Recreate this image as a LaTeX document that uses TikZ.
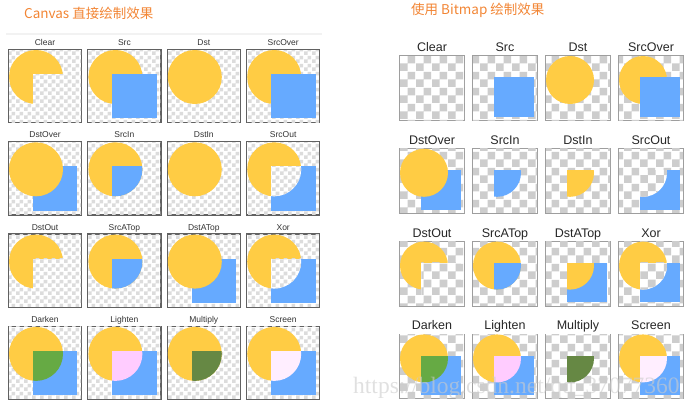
\documentclass[tikz,border=0pt]{standalone}
\usepackage{fontspec}
\setmainfont{Liberation Sans}
\newfontfamily\cjk{Noto Sans CJK SC}
\newfontfamily\wmserif{Liberation Serif}
\usetikzlibrary{%
  patterns,% checker boards
  scopes%
}

\definecolor{discyellow}{HTML}{FFCC44}
\definecolor{sqblue}{HTML}{66AAFF}
\definecolor{darkengreen}{HTML}{66AA44}
\definecolor{lightenpink}{HTML}{FFCCFF}
\definecolor{multgreen}{HTML}{668844}
\definecolor{screenpink}{HTML}{FFEEFF}
\definecolor{titleorange}{RGB}{242,133,52}
\definecolor{chkgrayL}{HTML}{DCDCDC}
\definecolor{chkgrayR}{HTML}{CDCDCD}

% checker boards, 4px and 8px squares
\pgfdeclarepatternformonly{checkL}{\pgfpointorigin}{\pgfqpoint{8pt}{8pt}}{\pgfqpoint{8pt}{8pt}}{%
  \pgfpathrectangle{\pgfpointorigin}{\pgfqpoint{4pt}{4pt}}%
  \pgfpathrectangle{\pgfqpoint{4pt}{4pt}}{\pgfqpoint{4pt}{4pt}}%
  \pgfusepath{fill}}
\pgfdeclarepatternformonly{checkR}{\pgfpointorigin}{\pgfqpoint{16pt}{16pt}}{\pgfqpoint{16pt}{16pt}}{%
  \pgfpathrectangle{\pgfpointorigin}{\pgfqpoint{8pt}{8pt}}%
  \pgfpathrectangle{\pgfqpoint{8pt}{8pt}}{\pgfqpoint{8pt}{8pt}}%
  \pgfusepath{fill}}

% shapes of one cell: origin (#1,#2), side #3
\newcommand{\cdisc}[3]{(#1+0.375*#3,#2+0.375*#3) circle [radius=0.375*#3]}
\newcommand{\csquare}[3]{(#1+#3/3,#2+#3/3) rectangle (#1+0.95*#3,#2+0.95*#3)}
\newcommand{\cmeet}[4]{{\begin{scope}\clip \cdisc{#2}{#3}{#4}; \fill[#1] \csquare{#2}{#3}{#4};\end{scope}}}
% empty cells with their names
\newcommand{\cellL}[4]{%
  \draw[frameL] (#1-0.6,#2-0.6) rectangle (#1+72.6,#2+72.6);
  \fill[chkL] (#1,#2) rectangle (#1+72,#2+72);
  \node[labL] (#4) at (#1+36,#2-4.5) {#3};}
\newcommand{\cellR}[4]{%
  \draw[frameR] (#1-0.45,#2-0.45) rectangle (#1+64.45,#2+64.45);
  \fill[chkR] (#1,#2) rectangle (#1+64,#2+64);
  \node[labR] (#4) at (#1+32,#2-4.5) {#3};}

\begin{document}
\begin{tikzpicture}[x=1pt, y=-1pt,
  frameL/.style={draw=black!62, line width=1.2pt},
  frameR/.style={draw=black!38, line width=0.9pt},
  chkL/.style={preaction={fill=white}, pattern=checkL, pattern color=chkgrayL},
  chkR/.style={preaction={fill=white}, pattern=checkR, pattern color=chkgrayR},
  labL/.style={anchor=base, inner sep=0pt, text=black!80, font=\fontsize{8.5}{9}\selectfont},
  labR/.style={anchor=base, inner sep=0pt, text=black!85, font=\fontsize{12.5}{13}\selectfont},
  title/.style={anchor=west, inner sep=0pt, text=titleorange, font=\cjk\fontsize{13.5}{14}\selectfont}]

\useasboundingbox (0,0) rectangle (694,407);

% -------- titles
\node[title] (titleL) at (24,13) {Canvas 直接绘制效果};
\node[title] (titleR) at (411,10.5) {使用 Bitmap 绘制效果};
\draw[black!5, line width=1.5pt] (6,34) -- (322,34);

% -------- Canvas, row 1
\cellL{9}{50}{Clear}{lClear}
\fill[discyellow] \cdisc{9}{50}{72};
\fill[chkL] \csquare{9}{50}{72};

\cellL{88.4}{50}{Src}{lSrc}
\fill[discyellow] \cdisc{88.4}{50}{72};
\fill[sqblue] \csquare{88.4}{50}{72};

\cellL{167.8}{50}{Dst}{lDst}
\fill[discyellow] \cdisc{167.8}{50}{72};

\cellL{247.2}{50}{SrcOver}{lSrcOver}
\fill[discyellow] \cdisc{247.2}{50}{72};
\fill[sqblue] \csquare{247.2}{50}{72};

% -------- Canvas, row 2
\cellL{9}{142.3}{DstOver}{lDstOver}
\fill[sqblue] \csquare{9}{142.3}{72};
\fill[discyellow] \cdisc{9}{142.3}{72};

\cellL{88.4}{142.3}{SrcIn}{lSrcIn}
\fill[discyellow] \cdisc{88.4}{142.3}{72};
\cmeet{sqblue}{88.4}{142.3}{72}

\cellL{167.8}{142.3}{DstIn}{lDstIn}
\fill[discyellow] \cdisc{167.8}{142.3}{72};

\cellL{247.2}{142.3}{SrcOut}{lSrcOut}
\fill[discyellow] \cdisc{247.2}{142.3}{72};
\fill[sqblue] \csquare{247.2}{142.3}{72};
\cmeet{chkL}{247.2}{142.3}{72}

% -------- Canvas, row 3
\cellL{9}{234.6}{DstOut}{lDstOut}
\fill[discyellow] \cdisc{9}{234.6}{72};
\fill[chkL] \csquare{9}{234.6}{72};

\cellL{88.4}{234.6}{SrcATop}{lSrcATop}
\fill[discyellow] \cdisc{88.4}{234.6}{72};
\cmeet{sqblue}{88.4}{234.6}{72}

\cellL{167.8}{234.6}{DstATop}{lDstATop}
\fill[sqblue] \csquare{167.8}{234.6}{72};
\fill[discyellow] \cdisc{167.8}{234.6}{72};

\cellL{247.2}{234.6}{Xor}{lXor}
\fill[discyellow] \cdisc{247.2}{234.6}{72};
\fill[sqblue] \csquare{247.2}{234.6}{72};
\cmeet{chkL}{247.2}{234.6}{72}

% -------- Canvas, row 4
\cellL{9}{326.9}{Darken}{lDarken}
\fill[discyellow] \cdisc{9}{326.9}{72};
\fill[sqblue] \csquare{9}{326.9}{72};
\cmeet{darkengreen}{9}{326.9}{72}

\cellL{88.4}{326.9}{Lighten}{lLighten}
\fill[discyellow] \cdisc{88.4}{326.9}{72};
\fill[sqblue] \csquare{88.4}{326.9}{72};
\cmeet{lightenpink}{88.4}{326.9}{72}

\cellL{167.8}{326.9}{Multiply}{lMultiply}
\fill[discyellow] \cdisc{167.8}{326.9}{72};
\cmeet{multgreen}{167.8}{326.9}{72}

\cellL{247.2}{326.9}{Screen}{lScreen}
\fill[discyellow] \cdisc{247.2}{326.9}{72};
\fill[sqblue] \csquare{247.2}{326.9}{72};
\cmeet{screenpink}{247.2}{326.9}{72}

% -------- Bitmap, row 1
\cellR{400}{56}{Clear}{rClear}

\cellR{473}{56}{Src}{rSrc}
\fill[sqblue] \csquare{473}{56}{64};

\cellR{546}{56}{Dst}{rDst}
\fill[discyellow] \cdisc{546}{56}{64};

\cellR{619}{56}{SrcOver}{rSrcOver}
\fill[discyellow] \cdisc{619}{56}{64};
\fill[sqblue] \csquare{619}{56}{64};

% -------- Bitmap, row 2
\cellR{400}{148.8}{DstOver}{rDstOver}
\fill[sqblue] \csquare{400}{148.8}{64};
\fill[discyellow] \cdisc{400}{148.8}{64};

\cellR{473}{148.8}{SrcIn}{rSrcIn}
\cmeet{sqblue}{473}{148.8}{64}

\cellR{546}{148.8}{DstIn}{rDstIn}
\cmeet{discyellow}{546}{148.8}{64}

\cellR{619}{148.8}{SrcOut}{rSrcOut}
\fill[sqblue] \csquare{619}{148.8}{64};
\cmeet{chkR}{619}{148.8}{64}

% -------- Bitmap, row 3
\cellR{400}{241.6}{DstOut}{rDstOut}
\fill[discyellow] \cdisc{400}{241.6}{64};
\fill[chkR] \csquare{400}{241.6}{64};

\cellR{473}{241.6}{SrcATop}{rSrcATop}
\fill[discyellow] \cdisc{473}{241.6}{64};
\cmeet{sqblue}{473}{241.6}{64}

\cellR{546}{241.6}{DstATop}{rDstATop}
\fill[sqblue] \csquare{546}{241.6}{64};
\cmeet{discyellow}{546}{241.6}{64}

\cellR{619}{241.6}{Xor}{rXor}
\fill[discyellow] \cdisc{619}{241.6}{64};
\fill[sqblue] \csquare{619}{241.6}{64};
\cmeet{chkR}{619}{241.6}{64}

% -------- Bitmap, row 4
\cellR{400}{334.4}{Darken}{rDarken}
\fill[discyellow] \cdisc{400}{334.4}{64};
\fill[sqblue] \csquare{400}{334.4}{64};
\cmeet{darkengreen}{400}{334.4}{64}

\cellR{473}{334.4}{Lighten}{rLighten}
\fill[discyellow] \cdisc{473}{334.4}{64};
\fill[sqblue] \csquare{473}{334.4}{64};
\cmeet{lightenpink}{473}{334.4}{64}

\cellR{546}{334.4}{Multiply}{rMultiply}
\cmeet{multgreen}{546}{334.4}{64}

\cellR{619}{334.4}{Screen}{rScreen}
\fill[discyellow] \cdisc{619}{334.4}{64};
\fill[sqblue] \csquare{619}{334.4}{64};
\cmeet{screenpink}{619}{334.4}{64}

% -------- watermark
\node[anchor=west, inner sep=0pt, text=black!20, text opacity=0.6,
  font=\wmserif\fontsize{23.5}{23.5}\selectfont] (mark) at (353,388) {https://blog.csdn.net/qq\_37077360};

\end{tikzpicture}
\end{document}
